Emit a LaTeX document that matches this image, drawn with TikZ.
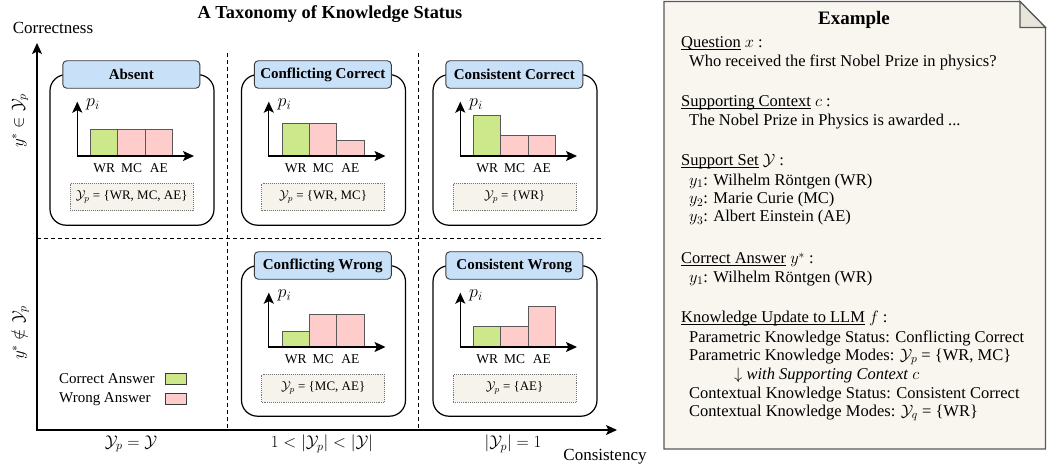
\RequirePackage{fix-cm}
\documentclass[tikz,border=0pt]{standalone}
\usepackage[no-math]{fontspec}
\setmainfont{Liberation Serif}
\usetikzlibrary{arrows.meta,calc}
\definecolor{tabblue}{HTML}{C8E1F8}
\definecolor{barg}{HTML}{CDE88A}
\definecolor{barp}{HTML}{FFCCCC}
\definecolor{setbg}{HTML}{F5F3EB}
\definecolor{notebg}{HTML}{F8F6EF}
\definecolor{foldbg}{HTML}{E8E6DC}
\definecolor{edge}{HTML}{3A3A3A}
\newcommand\ul[1]{\underline{\smash{#1}}}
\tikzset{
  outerbox/.style={draw=black, line width=1.2pt, rounded corners=16pt},
  tabbox/.style={draw=edge, fill=tabblue, line width=0.9pt, rounded corners=4pt,
    minimum width=137pt, minimum height=27.5pt, inner sep=0pt,
    font=\fontsize{15}{17}\selectfont\bfseries},
  bar/.style={draw=edge!85, line width=0.9pt},
  chartaxis/.style={line width=1.3pt,
    {Stealth[length=11pt,width=10pt,inset=2.5pt]}-{Stealth[length=11pt,width=10pt,inset=2.5pt]}},
  mainaxis/.style={line width=1.4pt,
    {Stealth[length=11pt,width=10pt,inset=2.5pt]}-{Stealth[length=11pt,width=10pt,inset=2.5pt]}},
  divider/.style={line width=0.9pt, dash pattern=on 4pt off 3pt},
  setbox/.style={draw=edge!70, densely dotted, fill=setbg, line width=0.9pt,
    minimum width=123pt, minimum height=27.5pt, inner sep=0pt,
    font=\fontsize{13}{15}\selectfont},
  barlabel/.style={font=\fontsize{13.5}{15}\selectfont, inner sep=0pt},
  plabel/.style={font=\fontsize{18}{20}\selectfont, inner sep=0pt},
  axlabel/.style={font=\fontsize{17}{19}\selectfont, inner sep=0pt},
  legtext/.style={font=\fontsize{15}{17}\selectfont, inner sep=0pt, anchor=west},
  legbox/.style={draw=edge, line width=0.9pt, minimum width=21pt, minimum height=11pt, inner sep=0pt},
  ptext/.style={anchor=base west, inner sep=0pt, font=\fontsize{16.5}{19}\selectfont},
}
% #1 name, #2 left, #3 top, #4 title, #5 #6 #7 bar heights, #8 set text
\newcommand\statusbox[8]{%
  \draw[outerbox] (#2, #3+14) rectangle (#2+164, #3+164.5);
  \node[tabbox] (#1-tab) at (#2+81.3, #3+13.8) {#4};
  \coordinate (#1-o) at (#2+27.3, #3+95.3);
  \coordinate (#1-ytip) at (#2+27.3, #3+41);
  \coordinate (#1-xtip) at (#2+144, #3+95.3);
  \draw[bar, fill=barg] (#2+40.6, #3+95.3) rectangle ++(27.3, -#5);
  \draw[bar, fill=barp] (#2+67.9, #3+95.3) rectangle ++(27.3, -#6);
  \draw[bar, fill=barp] (#2+95.2, #3+95.3) rectangle ++(27.3, -#7);
  \draw[chartaxis] (#1-ytip) -- (#1-o) -- (#1-xtip);
  \node[plabel] (#1-p) at (#2+43, #3+44) {$p_i$};
  \node[barlabel] (#1-wr) at (#2+54.25, #3+107.5) {WR};
  \node[barlabel] (#1-mc) at (#2+81.55, #3+107.5) {MC};
  \node[barlabel] (#1-ae) at (#2+108.85, #3+107.5) {AE};
  \node[setbox] (#1-set) at (#2+81.65, #3+136.5) {#8};
}
\begin{document}
\begin{tikzpicture}[x=1pt, y=-1pt]
\useasboundingbox (0,0) rectangle (1047,465);

% main axes
\coordinate (O) at (37,430);
\coordinate (Ytip) at (37,43);
\coordinate (Xtip) at (617,430);
\coordinate (v1t) at (227.5,53);
\coordinate (v1b) at (227.5,430);
\coordinate (v2t) at (418.5,53);
\coordinate (v2b) at (418.5,430);
\coordinate (hl) at (37,238);
\coordinate (hr) at (604,238);
\draw[divider] (v1t) -- (v1b);
\draw[divider] (v2t) -- (v2b);
\draw[divider] (hl) -- (hr);
\draw[mainaxis] (Ytip) -- (O) -- (Xtip);

\node[font=\fontsize{18.3}{20}\selectfont\bfseries, inner sep=0pt] (title) at (330,14) {A Taxonomy of Knowledge Status};
\node[axlabel] (corr) at (53,28) {Correctness};
\node[axlabel] (cons) at (605,457) {Consistency};
\node[axlabel] (c1) at (131,444) {$\mathcal{Y}_p=\mathcal{Y}$};
\node[axlabel] (c2) at (322,444) {$1<|\mathcal{Y}_p|<|\mathcal{Y}|$};
\node[axlabel] (c3) at (513,444) {$|\mathcal{Y}_p|=1$};
\node[axlabel, rotate=90] (r1) at (20,121) {$y^*\in\mathcal{Y}_p$};
\node[axlabel, rotate=90] (r2) at (20,333) {$y^*\notin\mathcal{Y}_p$};

% status boxes
\statusbox{ab}{50}{60.7}{Absent}{27}{27}{27}{$\mathcal{Y}_p$ = \{WR, MC, AE\}}
\statusbox{cc}{241.5}{60.7}{Conflicting Correct}{32.5}{32.5}{16}{$\mathcal{Y}_p$ = \{WR, MC\}}
\statusbox{sc}{433}{60.7}{Consistent Correct}{40.5}{20.3}{20.3}{$\mathcal{Y}_p$ = \{WR\}}
\statusbox{cw}{241.5}{251.7}{Conflicting Wrong}{16}{32.5}{32.5}{$\mathcal{Y}_p$ = \{MC, AE\}}
\statusbox{sw}{433}{251.7}{Consistent Wrong}{20.3}{20.3}{40.5}{$\mathcal{Y}_p$ = \{AE\}}

% legend
\node[legtext] (lc) at (59,379) {Correct Answer};
\node[legtext] (lw) at (59,399) {Wrong Answer};
\node[legbox, fill=barg] (lcb) at (176,378.5) {};
\node[legbox, fill=barp] (lwb) at (176,399) {};

% example panel
\draw[draw=edge!85, fill=notebg, line width=1.2pt]
  (664,1.5) -- (1020,1.5) -- (1045.5,27.5) -- (1045.5,449) -- (664,449) -- cycle;
\draw[draw=edge!85, fill=foldbg, line width=1.2pt]
  (1020,1.5) -- (1020,27.5) -- (1045.5,27.5) -- cycle;
\node[font=\fontsize{19}{21}\selectfont\bfseries, inner sep=0pt] (ex) at (854,20) {Example};
\node[ptext] (q) at (681,47.5) {\ul{Question} $x$ :};
\node[ptext] (q1) at (689,66.5) {Who received the first Nobel Prize in physics?};
\node[ptext] (s) at (681,106.5) {\ul{Supporting Context} $c$ :};
\node[ptext] (s1) at (689,125.5) {The Nobel Prize in Physics is awarded ...};
\node[ptext] (ss) at (681,165.5) {\ul{Support Set} $\mathcal{Y}$ :};
\node[ptext] (ss1) at (689,185.5) {$y_1$: Wilhelm Röntgen (WR)};
\node[ptext] (ss2) at (689,204) {$y_2$: Marie Curie (MC)};
\node[ptext] (ss3) at (689,222) {$y_3$: Albert Einstein (AE)};
\node[ptext] (ca) at (681,264) {\ul{Correct Answer} $y^*$ :};
\node[ptext] (ca1) at (689,282) {$y_1$: Wilhelm Röntgen (WR)};
\node[ptext] (ku) at (681,322.5) {\ul{Knowledge Update to LLM} $f$ :};
\node[ptext] (ku1) at (689,342) {Parametric Knowledge Status: Conflicting Correct};
\node[ptext] (ku2) at (689,360.5) {Parametric Knowledge Modes: $\mathcal{Y}_p$ = \{WR, MC\}};
\node[ptext] (ku3) at (734,379) {$\downarrow$ \textit{with Supporting Context} $c$};
\node[ptext] (ku4) at (689,398) {Contextual Knowledge Status: Consistent Correct};
\node[ptext] (ku5) at (689,416.5) {Contextual Knowledge Modes: $\mathcal{Y}_q$ = \{WR\}};
\end{tikzpicture}
\end{document}
